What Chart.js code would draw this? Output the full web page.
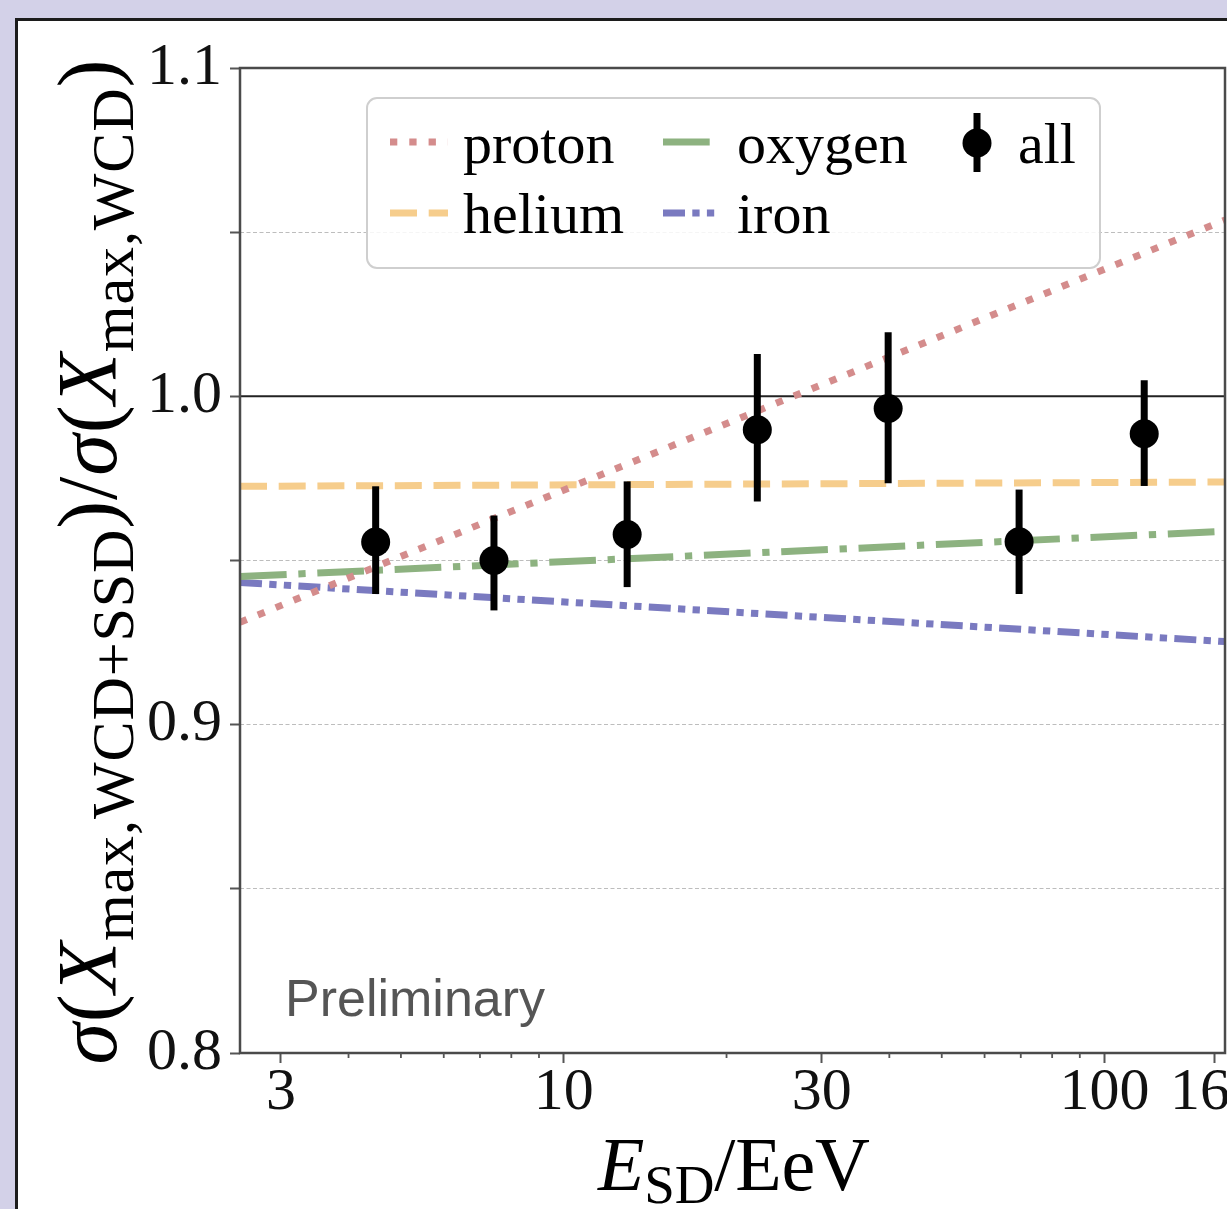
<!DOCTYPE html>
<html><head><meta charset="utf-8">
<script src="https://cdn.jsdelivr.net/npm/chart.js@4.4.1/dist/chart.umd.min.js"></script>
<style>
html,body{margin:0;padding:0;width:1227px;height:1209px;overflow:hidden;background:#d3d1e8;}
#panel{position:absolute;left:15px;top:18px;width:1400px;height:1400px;background:#fff;border:3px solid #1c1c1c;box-sizing:border-box;}
#wrap{position:absolute;left:0;top:0;width:1300px;height:1209px;}
</style></head><body>
<div id="panel"></div>
<div id="wrap"><canvas id="c" width="1300" height="1209"></canvas></div>
<script>
// ---- data ----
const energy   = [4.49, 7.43, 13.1, 22.8, 39.8, 69.5, 118.4];      // E_SD / EeV
const ratioAll = [0.9556, 0.9500, 0.9579, 0.9898, 0.9963, 0.9557, 0.9886];
const errLow   = [0.9398, 0.9348, 0.9419, 0.9680, 0.9735, 0.9398, 0.9727];
const errHigh  = [0.9726, 0.9637, 0.9741, 1.0129, 1.0195, 0.9716, 1.0049];

const modelEnergy = [2.52, 167];
const protonRatio = [0.9312, 1.0537];
const heliumRatio = [0.9726, 0.9739];
const oxygenRatio = [0.9451, 0.9589];
const ironRatio   = [0.9433, 0.9253];
const refValue = 1.0;

const yTickValues = [0.8, 0.85, 0.9, 0.95, 1.0, 1.05, 1.1];
const yTickLabels = ['0.8', '', '0.9', '', '1.0', '', '1.1'];
const xTickValues = [3, 10, 30, 100, 160];
const xTickLabels = ['3', '10', '30', '100', '160'];
const xMinorTicks = [4, 5, 6, 7, 8, 9, 20, 40, 50, 60, 70, 80, 90];
const xRange = [2.52, 167];
const yRange = [0.8, 1.1];

const seriesNames = ['proton', 'helium', 'oxygen', 'iron', 'all'];

// ---- styles ----
const LW = 7;
const styles = {
  proton: {color: '#d48c8c', dash: [7.3, 12]},
  helium: {color: '#f6cd8c', dash: [27, 11.7]},
  oxygen: {color: '#8db280', dash: [46.7, 11.7, 7.3, 11.7]},
  iron:   {color: '#7a7ac0', dash: [22, 7.3, 7.3, 7.3, 7.3, 7.3]}
};
const SERIF = '"Liberation Serif", "Times New Roman", serif';

function pts(xs, ys) { return xs.map((x, i) => ({x: x, y: ys[i]})); }
function lineDs(name, ys) {
  return {label: name, data: pts(modelEnergy, ys), showLine: true, pointRadius: 0,
    borderColor: styles[name].color, borderWidth: LW, borderDash: styles[name].dash,
    borderCapStyle: 'butt', tension: 0, fill: false, order: 2};
}

const datasets = [
  {label: 'all', data: pts(energy, ratioAll), showLine: false, pointRadius: 14.5,
   pointBackgroundColor: '#000', pointBorderWidth: 0, order: 0},
  lineDs('proton', protonRatio),
  lineDs('helium', heliumRatio),
  lineDs('oxygen', oxygenRatio),
  lineDs('iron', ironRatio),
  {label: 'ref', data: pts(xRange, [refValue, refValue]), showLine: true, pointRadius: 0,
   borderColor: '#222', borderWidth: 2, order: 3}
];

function drawRich(ctx, pieces, target) {
  const chars = [];
  pieces.forEach(p => { for (const ch of p.t) { ctx.font = p.font; chars.push({ch, font: p.font, dy: p.dy, w: ctx.measureText(ch).width}); } });
  const W = chars.reduce((a, c) => a + c.w, 0);
  let s = chars.length > 1 ? (target - W) / (chars.length - 1) : 0;
  s = Math.max(-3, Math.min(8, s));
  const total = W + s * (chars.length - 1);
  let x = -total / 2;
  ctx.textBaseline = 'alphabetic'; ctx.textAlign = 'left';
  chars.forEach(c => { ctx.font = c.font; ctx.fillText(c.ch, x, c.dy); x += c.w + s; });
}

const decor = {
  id: 'decor',
  afterDatasetsDraw(chart) {
    const ctx = chart.ctx, xs = chart.scales.x, ys = chart.scales.y;
    ctx.save();
    ctx.strokeStyle = '#000'; ctx.lineWidth = LW; ctx.lineCap = 'butt';
    energy.forEach((e, i) => {
      const px = xs.getPixelForValue(e);
      ctx.beginPath();
      ctx.moveTo(px, ys.getPixelForValue(errLow[i]));
      ctx.lineTo(px, ys.getPixelForValue(errHigh[i]));
      ctx.stroke();
    });
    ctx.restore();
  },
  afterDraw(chart) {
    const ctx = chart.ctx, a = chart.chartArea, xs = chart.scales.x;
    ctx.save();
    // axes box
    ctx.strokeStyle = '#4a4a4a'; ctx.lineWidth = 2.5;
    ctx.strokeRect(a.left, a.top, a.right - a.left, a.bottom - a.top);
    // minor x ticks
    ctx.lineWidth = 1.8; ctx.strokeStyle = '#555';
    xMinorTicks.forEach(v => {
      const px = xs.getPixelForValue(v);
      ctx.beginPath(); ctx.moveTo(px, a.bottom); ctx.lineTo(px, a.bottom + 5); ctx.stroke();
    });
    // legend
    const bx = 367, by = 98, bw = 733, bh = 170;
    ctx.fillStyle = 'rgba(255,255,255,0.85)';
    ctx.strokeStyle = '#cfcfcf'; ctx.lineWidth = 2;
    ctx.beginPath(); ctx.roundRect(bx, by, bw, bh, 10); ctx.fill(); ctx.stroke();
    const entries = [
      {name: 'proton', sx: 390, tx: 463, y: 142, ty: 163},
      {name: 'helium', sx: 390, tx: 463, y: 213, ty: 233},
      {name: 'oxygen', sx: 663, tx: 737, y: 142, ty: 163},
      {name: 'iron',   sx: 663, tx: 737, y: 213, ty: 233}
    ];
    entries.forEach(en => {
      const st = styles[en.name];
      ctx.strokeStyle = st.color; ctx.lineWidth = LW; ctx.lineCap = 'butt';
      ctx.setLineDash(st.dash);
      ctx.beginPath(); ctx.moveTo(en.sx, en.y); ctx.lineTo(en.sx + 58, en.y); ctx.stroke();
      ctx.setLineDash([]);
      ctx.fillStyle = '#000'; ctx.font = '58px ' + SERIF; ctx.textBaseline = 'alphabetic'; ctx.textAlign = 'left';
      ctx.fillText(en.name, en.tx, en.ty);
    });
    // "all" marker
    ctx.strokeStyle = '#000'; ctx.lineWidth = LW;
    ctx.beginPath(); ctx.moveTo(977, 113); ctx.lineTo(977, 172); ctx.stroke();
    ctx.fillStyle = '#000';
    ctx.beginPath(); ctx.arc(977, 143, 14.5, 0, Math.PI * 2); ctx.fill();
    ctx.font = '58px ' + SERIF; ctx.fillText(seriesNames[4], 1018, 163);
    // Preliminary
    ctx.fillStyle = '#555'; ctx.font = '52px "Liberation Sans", Arial, sans-serif';
    ctx.fillText('Preliminary', 285, 1016);
    // x title
    ctx.fillStyle = '#000';
    ctx.save(); ctx.translate(734, 1190);
    drawRich(ctx, [
      {t: 'E', font: 'italic 76px ' + SERIF, dy: 0},
      {t: 'SD', font: '55px ' + SERIF, dy: 13},
      {t: '/EeV', font: '76px ' + SERIF, dy: 0}
    ], 272);
    ctx.restore();
    // y title
    ctx.save(); ctx.translate(116, 562); ctx.rotate(-Math.PI / 2);
    const M = '84px ' + SERIF, MI = 'italic 84px ' + SERIF, S = '60px ' + SERIF;
    drawRich(ctx, [
      {t: 'σ', font: MI, dy: 0}, {t: '(', font: M, dy: 0}, {t: 'X', font: MI, dy: 0},
      {t: 'max,WCD+SSD', font: S, dy: 17}, {t: ')', font: M, dy: 0}, {t: '/', font: M, dy: 0},
      {t: 'σ', font: MI, dy: 0}, {t: '(', font: M, dy: 0}, {t: 'X', font: MI, dy: 0},
      {t: 'max,WCD', font: S, dy: 17}, {t: ')', font: M, dy: 0}
    ], 1005);
    ctx.restore();
    ctx.restore();
  }
};

new Chart(document.getElementById('c'), {
  type: 'scatter',
  data: {datasets},
  options: {
    responsive: false, animation: false, devicePixelRatio: 1,
    layout: {padding: {left: 0, top: 68, right: 75, bottom: 0}},
    plugins: {legend: {display: false}, tooltip: {enabled: false}},
    scales: {
      x: {
        type: 'logarithmic', min: xRange[0], max: xRange[1],
        afterBuildTicks: s => { s.ticks = xTickValues.map(v => ({value: v})); },
        afterFit: s => { s.height = 156; },
        ticks: {autoSkip: false, maxRotation: 0, minRotation: 0, padding: -6, color: '#111',
          font: {family: SERIF, size: 60},
          callback: (v, i) => xTickLabels[i]},
        grid: {drawOnChartArea: false, drawTicks: true, tickLength: 10, tickWidth: 2, tickColor: '#555'},
        border: {display: false}
      },
      y: {
        type: 'linear', min: yRange[0], max: yRange[1],
        afterBuildTicks: s => { s.ticks = yTickValues.map(v => ({value: v})); },
        afterFit: s => { s.width = 240; },
        ticks: {autoSkip: false, padding: 8, color: '#111',
          font: {family: SERIF, size: 60},
          callback: (v, i) => yTickLabels[i]},
        grid: {
          color: c => (c.index === 0 || c.index === yTickValues.length - 1) ? 'rgba(0,0,0,0)' : '#bdbdbd',
          lineWidth: 1, tickLength: 10, tickWidth: 2, tickColor: '#555'
        },
        border: {display: false, dash: [4, 2.5]}
      }
    }
  },
  plugins: [decor]
});
</script>
</body></html>
